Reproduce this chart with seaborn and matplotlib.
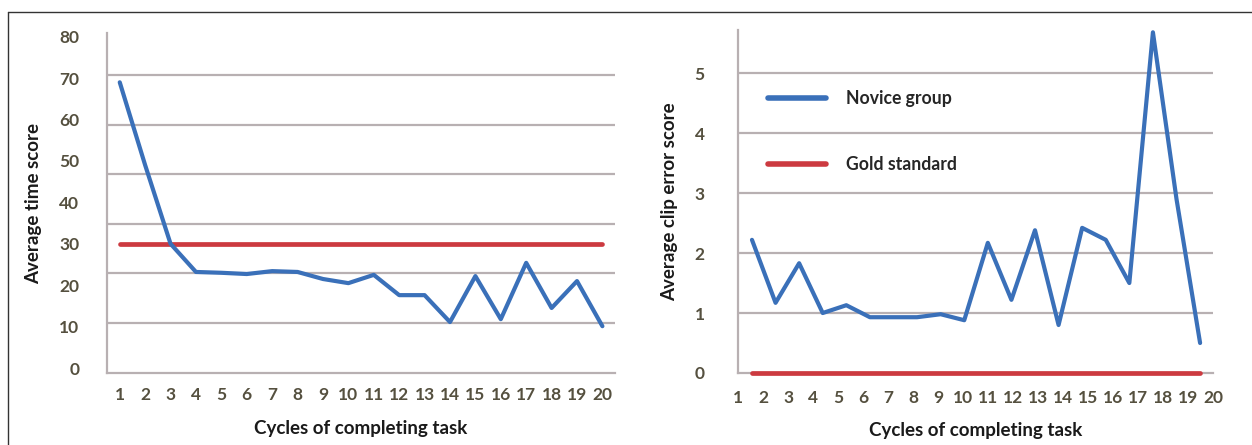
import matplotlib
matplotlib.use("Agg")
import matplotlib.pyplot as plt
from matplotlib.lines import Line2D
import numpy as np
import pandas as pd
import seaborn as sns

# cycles 1..20
cycles = list(range(1, 21))

# left panel: average time score
time_novice = [69, 49, 30, 23.2, 23, 22.7, 23.4, 23.2, 21.5, 20.5,
               22.5, 17.6, 17.6, 11.1, 22.2, 11.8, 25.4, 14.5, 21, 10.1]
time_gold = [30] * 20
time_ticks = [0, 10, 20, 30, 40, 50, 60, 70, 80]
# the grid of the original sits off the tick labels
time_grid = [10.9, 22.9, 34.8, 46.9, 58.7, 70.8]

# right panel: average clip error score
clip_novice = [2.22, 1.17, 1.83, 1.0, 1.13, 0.93, 0.93, 0.93, 0.98, 0.88,
               2.17, 1.22, 2.38, 0.8, 2.42, 2.22, 1.5, 5.68, 2.9, 0.5]
clip_gold = [0] * 20
clip_ticks = [0, 1, 2, 3, 4, 5]

blue = "#3a70b9"
red = "#cc3a40"
grid_col = "#b8b0b2"
tick_col = "#55503f"

df_time = pd.DataFrame({"cycle": cycles * 2,
                        "score": time_novice + time_gold,
                        "group": ["Novice group"] * 20 + ["Gold standard"] * 20})
df_clip = pd.DataFrame({"cycle": cycles * 2,
                        "score": clip_novice + clip_gold,
                        "group": ["Novice group"] * 20 + ["Gold standard"] * 20})

sns.set_style("white")
plt.rcParams["font.family"] = ["Lato", "DejaVu Sans"]

fig = plt.figure(figsize=(12.52, 4.45), dpi=100)
ax1 = fig.add_axes([0.0855, 0.1618, 0.4058, 0.764])
ax2 = fig.add_axes([0.5895, 0.1618, 0.3794, 0.771])

pal = {"Novice group": blue, "Gold standard": red}
for ax, df in ((ax1, df_time), (ax2, df_clip)):
    sns.lineplot(data=df, x="cycle", y="score", hue="group", palette=pal,
                 hue_order=["Gold standard", "Novice group"], linewidth=3.0,
                 estimator=None, ax=ax, legend=False)
    for ln in ax.lines:
        ln.set_zorder(3)
        ln.set_clip_on(False)
    ax.lines[0].set_linewidth(3.4)

tick_font = {"fontsize": 12.5, "fontweight": "bold", "color": tick_col}
label_font = {"fontsize": 13.5, "fontweight": "bold", "color": "#1a1a1a"}

# left axes
ax1.set_xlim(0.5, 20.5)
ax1.set_ylim(-1.2, 80.9)
ax1.set_yticks(time_ticks, labels=time_ticks, **tick_font)
ax1.set_xticks(cycles, labels=cycles, **tick_font)
for g in time_grid:
    ax1.axhline(g, color=grid_col, lw=1.6, zorder=0)
ax1.tick_params(axis="x", length=0, pad=10)
ax1.tick_params(axis="y", length=0, pad=20)
ax1.set_xlabel("Cycles of completing task", labelpad=12, **label_font)
ax1.set_ylabel("Average time score", labelpad=12, **label_font)

# right axes
ax2.set_xlim(0.41, 20.55)
ax2.set_ylim(0, 5.72)
ax2.set_yticks(clip_ticks, labels=clip_ticks, **tick_font)
ax2.set_xticks(np.linspace(0.41, 20.55, 20), labels=cycles, **tick_font)
for g in clip_ticks[1:]:
    ax2.axhline(g, color=grid_col, lw=1.6, zorder=0)
ax2.tick_params(axis="y", length=0, pad=24)
ax2.tick_params(axis="x", length=4, width=1, color=grid_col, direction="inout", pad=10)
ax2.set_xlabel("Cycles of completing task", labelpad=12, **label_font)
ax2.set_ylabel("Average clip error score", labelpad=12, **label_font)

handles = [Line2D([], [], color=blue, lw=4, solid_capstyle="round"),
           Line2D([], [], color=red, lw=4, solid_capstyle="round")]
ax2.legend(handles, ["Novice group", "Gold standard"], loc="upper left",
           bbox_to_anchor=(0.03, 0.87), frameon=False, handlelength=3.3,
           handletextpad=1.1, labelspacing=2.75,
           prop={"size": 12.7, "weight": "bold"})

for ax in (ax1, ax2):
    sns.despine(ax=ax)
    ax.spines["left"].set_color(grid_col)
    ax.spines["bottom"].set_color(grid_col)
    ax.spines["left"].set_linewidth(1.6)
    ax.spines["bottom"].set_linewidth(1.6)

# thin frame around the figure
fig.add_artist(Line2D([8 / 1252, 8 / 1252], [0, 1 - 12 / 445], color="#333333", lw=1))
fig.add_artist(Line2D([8 / 1252, 1], [1 - 12 / 445, 1 - 12 / 445], color="#333333", lw=1))

fig.savefig("out.png", dpi=100)
